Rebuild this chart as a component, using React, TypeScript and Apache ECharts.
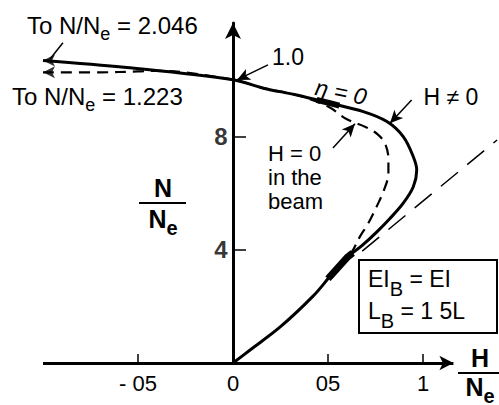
import React, { useEffect, useRef } from 'react';
import * as echarts from 'echarts';

// Axis ticks and labels (H/Ne horizontally, N/Ne vertically)
const xTickValues = [-0.5, 0.5, 1];
const xLabelValues = [-0.5, 0, 0.5, 1];
const xLabelTexts = ['- 05', '0', '05', '1'];
const yTickValues = [0.4, 0.8];
const yLabelTexts = ['4', '8'];

// H ≠ 0 curve, traced from the far left, across N/Ne = 1, round the nose and back to the origin
const solidH = [-1, -0.56, 0, 0.16, 0.335, 0.51, 0.686, 0.81, 0.896, 0.949, 0.967, 0.949, 0.896, 0.826, 0.756, 0.68, 0.6, 0.51, 0.42, 0.25, 0.09, 0];
const solidN = [1.068, 1.043, 1.0, 0.97, 0.946, 0.917, 0.887, 0.852, 0.799, 0.728, 0.681, 0.622, 0.564, 0.51, 0.462, 0.415, 0.372, 0.305, 0.235, 0.128, 0.046, 0];
const upperBranch = [2, 10]; // index range of the branch above the nose
const lowerBranch = [10, 21]; // index range of the branch below the nose

// H = 0 in the beam
const dashH = [-1, -0.7, -0.5, -0.4, 0, 0.16, 0.335, 0.5, 0.6, 0.7, 0.76, 0.8, 0.818, 0.818, 0.795, 0.756, 0.712, 0.668, 0.633, 0.605];
const dashN = [1.026, 1.026, 1.029, 1.031, 1.0, 0.97, 0.946, 0.905, 0.86, 0.832, 0.808, 0.775, 0.72, 0.67, 0.611, 0.552, 0.493, 0.446, 0.4, 0.372];

// Asymptote
const asymptoteH = [0.68, 1.39];
const asymptoteN = [0.395, 0.787];

// Emphasised stretches of the H ≠ 0 curve
const etaZeroSpan = [0.44, 0.56];
const junctionSpan = [0.5, 0.63];

// Annotation leader lines, data coordinates [from, to]
const leader2046 = [[-0.895, 1.13], [-0.963, 1.073]];
const leader10 = [[0.184, 1.052], [0.021, 0.999]];
const leaderHnot0 = [[0.94, 0.928], [0.826, 0.846]];
const leaderH0 = [[0.526, 0.759], [0.642, 0.844]];
const xAxisEnd = 1.16;

const FONT = '"Liberation Sans", Arial, Helvetica, sans-serif';

function pairs(xs: number[], ys: number[]) {
  return xs.map((x, i) => [x, ys[i]]);
}

// Points of one branch of the curve lying between xa and xb, ends interpolated
function spanOnBranch(xs: number[], ys: number[], range: number[], xa: number, xb: number) {
  const out: number[][] = [];
  for (let i = range[0]; i < range[1]; i++) {
    const x0 = xs[i], x1 = xs[i + 1], y0 = ys[i], y1 = ys[i + 1];
    const lo = Math.min(x0, x1), hi = Math.max(x0, x1);
    const a = Math.max(lo, xa), b = Math.min(hi, xb);
    if (a > b || hi === lo) continue;
    const at = (x: number) => [x, y0 + ((x - x0) / (x1 - x0)) * (y1 - y0)];
    const p = x1 >= x0 ? [at(a), at(b)] : [at(b), at(a)];
    p.forEach((q) => {
      const last = out[out.length - 1];
      if (!last || last[0] !== q[0] || last[1] !== q[1]) out.push(q);
    });
  }
  return out;
}

function leader(seg: number[][], head: boolean) {
  return [
    { coord: seg[0], symbol: 'none' },
    { coord: seg[1], symbol: head ? 'arrow' : 'none' },
  ];
}

const sub = (base: number, size: number, bold = false) => ({
  a: { fontSize: base, fontFamily: FONT, fontWeight: bold ? 'bold' : 'normal', verticalAlign: 'top', fill: '#000', color: '#000' },
  b: { fontSize: size, fontFamily: FONT, fontWeight: bold ? 'bold' : 'normal', padding: [11, 0, 0, 0], fill: '#000', color: '#000' },
});

export default function App() {
  const ref = useRef<HTMLDivElement>(null);

  useEffect(() => {
    document.body.style.margin = '0';
    const chart = echarts.init(ref.current!, null, { renderer: 'svg' });
    const black = '#000';

    const option: any = {
      animation: false,
      backgroundColor: '#fff',
      grid: { left: 43, right: 0, top: 23, bottom: 42 },
      xAxis: {
        type: 'value',
        min: -1,
        max: 1.4,
        axisLine: { show: false },
        splitLine: { show: false },
        axisTick: {
          show: true,
          inside: true,
          length: 9,
          customValues: xTickValues,
          lineStyle: { color: black, width: 1.5 },
        },
        axisLabel: {
          customValues: xLabelValues,
          formatter: (v: number) => xLabelTexts[xLabelValues.indexOf(v)] ?? '',
          color: black,
          fontSize: 22,
          fontFamily: FONT,
          margin: 9,
        },
      },
      yAxis: {
        type: 'value',
        min: 0,
        max: 1.2,
        axisLine: {
          show: true,
          onZero: true,
          symbol: ['none', 'arrow'],
          symbolSize: [12, 16],
          lineStyle: { color: black, width: 3 },
        },
        splitLine: { show: false },
        axisTick: {
          show: true,
          inside: true,
          length: 13,
          customValues: yTickValues,
          lineStyle: { color: black, width: 1.5 },
        },
        axisLabel: { show: false },
      },
      series: [
        {
          name: 'H ≠ 0',
          type: 'line',
          data: pairs(solidH, solidN),
          smooth: 0.35,
          symbol: 'none',
          lineStyle: { color: black, width: 3 },
          markLine: {
            silent: true,
            animation: false,
            symbolSize: [9, 13],
            label: { show: false },
            lineStyle: { color: black, width: 1.5, type: 'solid' },
            data: [
              [
                { coord: [-1, 0], symbol: 'none', lineStyle: { color: black, width: 3, type: 'solid' } },
                { coord: [xAxisEnd, 0], symbol: 'arrow', symbolSize: [11, 14] },
              ],
              leader(leader2046, false),
              leader(leader10, true),
              leader(leaderHnot0, true),
              leader(leaderH0, true),
            ],
          },
        },
        {
          name: 'H = 0',
          type: 'line',
          data: pairs(dashH, dashN),
          smooth: 0.35,
          symbol: 'none',
          lineStyle: { color: black, width: 2.2, type: [11, 7] },
        },
        {
          name: 'asymptote',
          type: 'line',
          data: pairs(asymptoteH, asymptoteN),
          symbol: 'none',
          lineStyle: { color: black, width: 1.5, type: [22, 12] },
        },
        {
          name: 'eta zero',
          type: 'line',
          data: spanOnBranch(solidH, solidN, upperBranch, etaZeroSpan[0], etaZeroSpan[1]),
          symbol: 'none',
          lineStyle: { color: black, width: 6 },
        },
        {
          name: 'junction',
          type: 'line',
          data: spanOnBranch(solidH, solidN, lowerBranch, junctionSpan[0], junctionSpan[1]),
          symbol: 'none',
          lineStyle: { color: black, width: 7 },
        },
        {
          name: 'continues',
          type: 'scatter',
          data: [
            [solidH[0], solidN[0]],
            [dashH[0], dashN[0]],
          ],
          symbol: 'arrow',
          symbolRotate: 90,
          symbolSize: [9, 12],
          itemStyle: { color: black },
        },
        {
          // N/Ne tick labels, set beside the vertical axis at H = 0
          name: 'N ticks',
          type: 'scatter',
          data: yTickValues.map((v) => [0, v]),
          symbol: 'circle',
          symbolSize: 1,
          itemStyle: { color: 'rgba(0,0,0,0)' },
          silent: true,
          label: {
            show: true,
            position: 'left',
            distance: 5,
            formatter: (p: any) => yLabelTexts[p.dataIndex],
            color: black,
            fontSize: 24,
            fontWeight: 'bold',
            fontFamily: FONT,
          },
        },
      ],
      graphic: [
        // vertical axis name
        { type: 'text', x: 163, y: 188, style: { text: 'N', font: `bold 25px ${FONT}`, fill: black, align: 'center', verticalAlign: 'middle' } },
        { type: 'line', shape: { x1: 139, y1: 203, x2: 186, y2: 203 }, style: { stroke: black, lineWidth: 2 } },
        { type: 'text', x: 163, y: 222, style: { text: '{a|N}{b|e}', rich: sub(25, 20, true), align: 'center', verticalAlign: 'middle' } },
        // horizontal axis name
        { type: 'text', x: 480, y: 358, style: { text: 'H', font: `bold 25px ${FONT}`, fill: black, align: 'center', verticalAlign: 'middle' } },
        { type: 'line', shape: { x1: 458, y1: 373, x2: 499, y2: 373 }, style: { stroke: black, lineWidth: 2 } },
        { type: 'text', x: 480, y: 390, style: { text: '{a|N}{b|e}', rich: sub(25, 20, true), align: 'center', verticalAlign: 'middle' } },
        // annotations
        { type: 'text', x: 27, y: 28, style: { text: '{a|To N/N}{b|e}{a| = 2.046}', rich: sub(24, 18), align: 'left', verticalAlign: 'middle' } },
        { type: 'text', x: 12, y: 99, style: { text: '{a|To N/N}{b|e}{a| = 1.223}', rich: sub(24, 18), align: 'left', verticalAlign: 'middle' } },
        { type: 'text', x: 288, y: 57, style: { text: '1.0', font: `23px ${FONT}`, fill: black, align: 'center', verticalAlign: 'middle' } },
        { type: 'text', x: 341, y: 92, rotation: -0.2, style: { text: 'η = 0', font: `italic 23px ${FONT}`, fill: black, align: 'center', verticalAlign: 'middle' } },
        { type: 'text', x: 451, y: 97, style: { text: 'H ≠ 0', font: `23px ${FONT}`, fill: black, align: 'center', verticalAlign: 'middle' } },
        { type: 'text', x: 268, y: 141, style: { text: 'H = 0\nin the\nbeam', font: `22px ${FONT}`, lineHeight: 24, fill: black, align: 'left', verticalAlign: 'top' } },
        // stiffness box
        { type: 'rect', shape: { x: 359, y: 260, width: 138, height: 73 }, style: { fill: '#fff', stroke: black, lineWidth: 2 } },
        { type: 'text', x: 368, y: 283, style: { text: '{a|EI}{b|B}{a| = EI}', rich: sub(23, 20), align: 'left', verticalAlign: 'middle' } },
        { type: 'text', x: 368, y: 315, style: { text: '{a|L}{b|B}{a| = 1 5L}', rich: sub(23, 20), align: 'left', verticalAlign: 'middle' } },
      ],
    };

    chart.setOption(option);
    return () => chart.dispose();
  }, []);

  return (
    <div
      ref={ref}
      style={{ position: 'fixed', left: 0, top: 0, width: 499, height: 405, background: '#fff' }}
    />
  );
}
